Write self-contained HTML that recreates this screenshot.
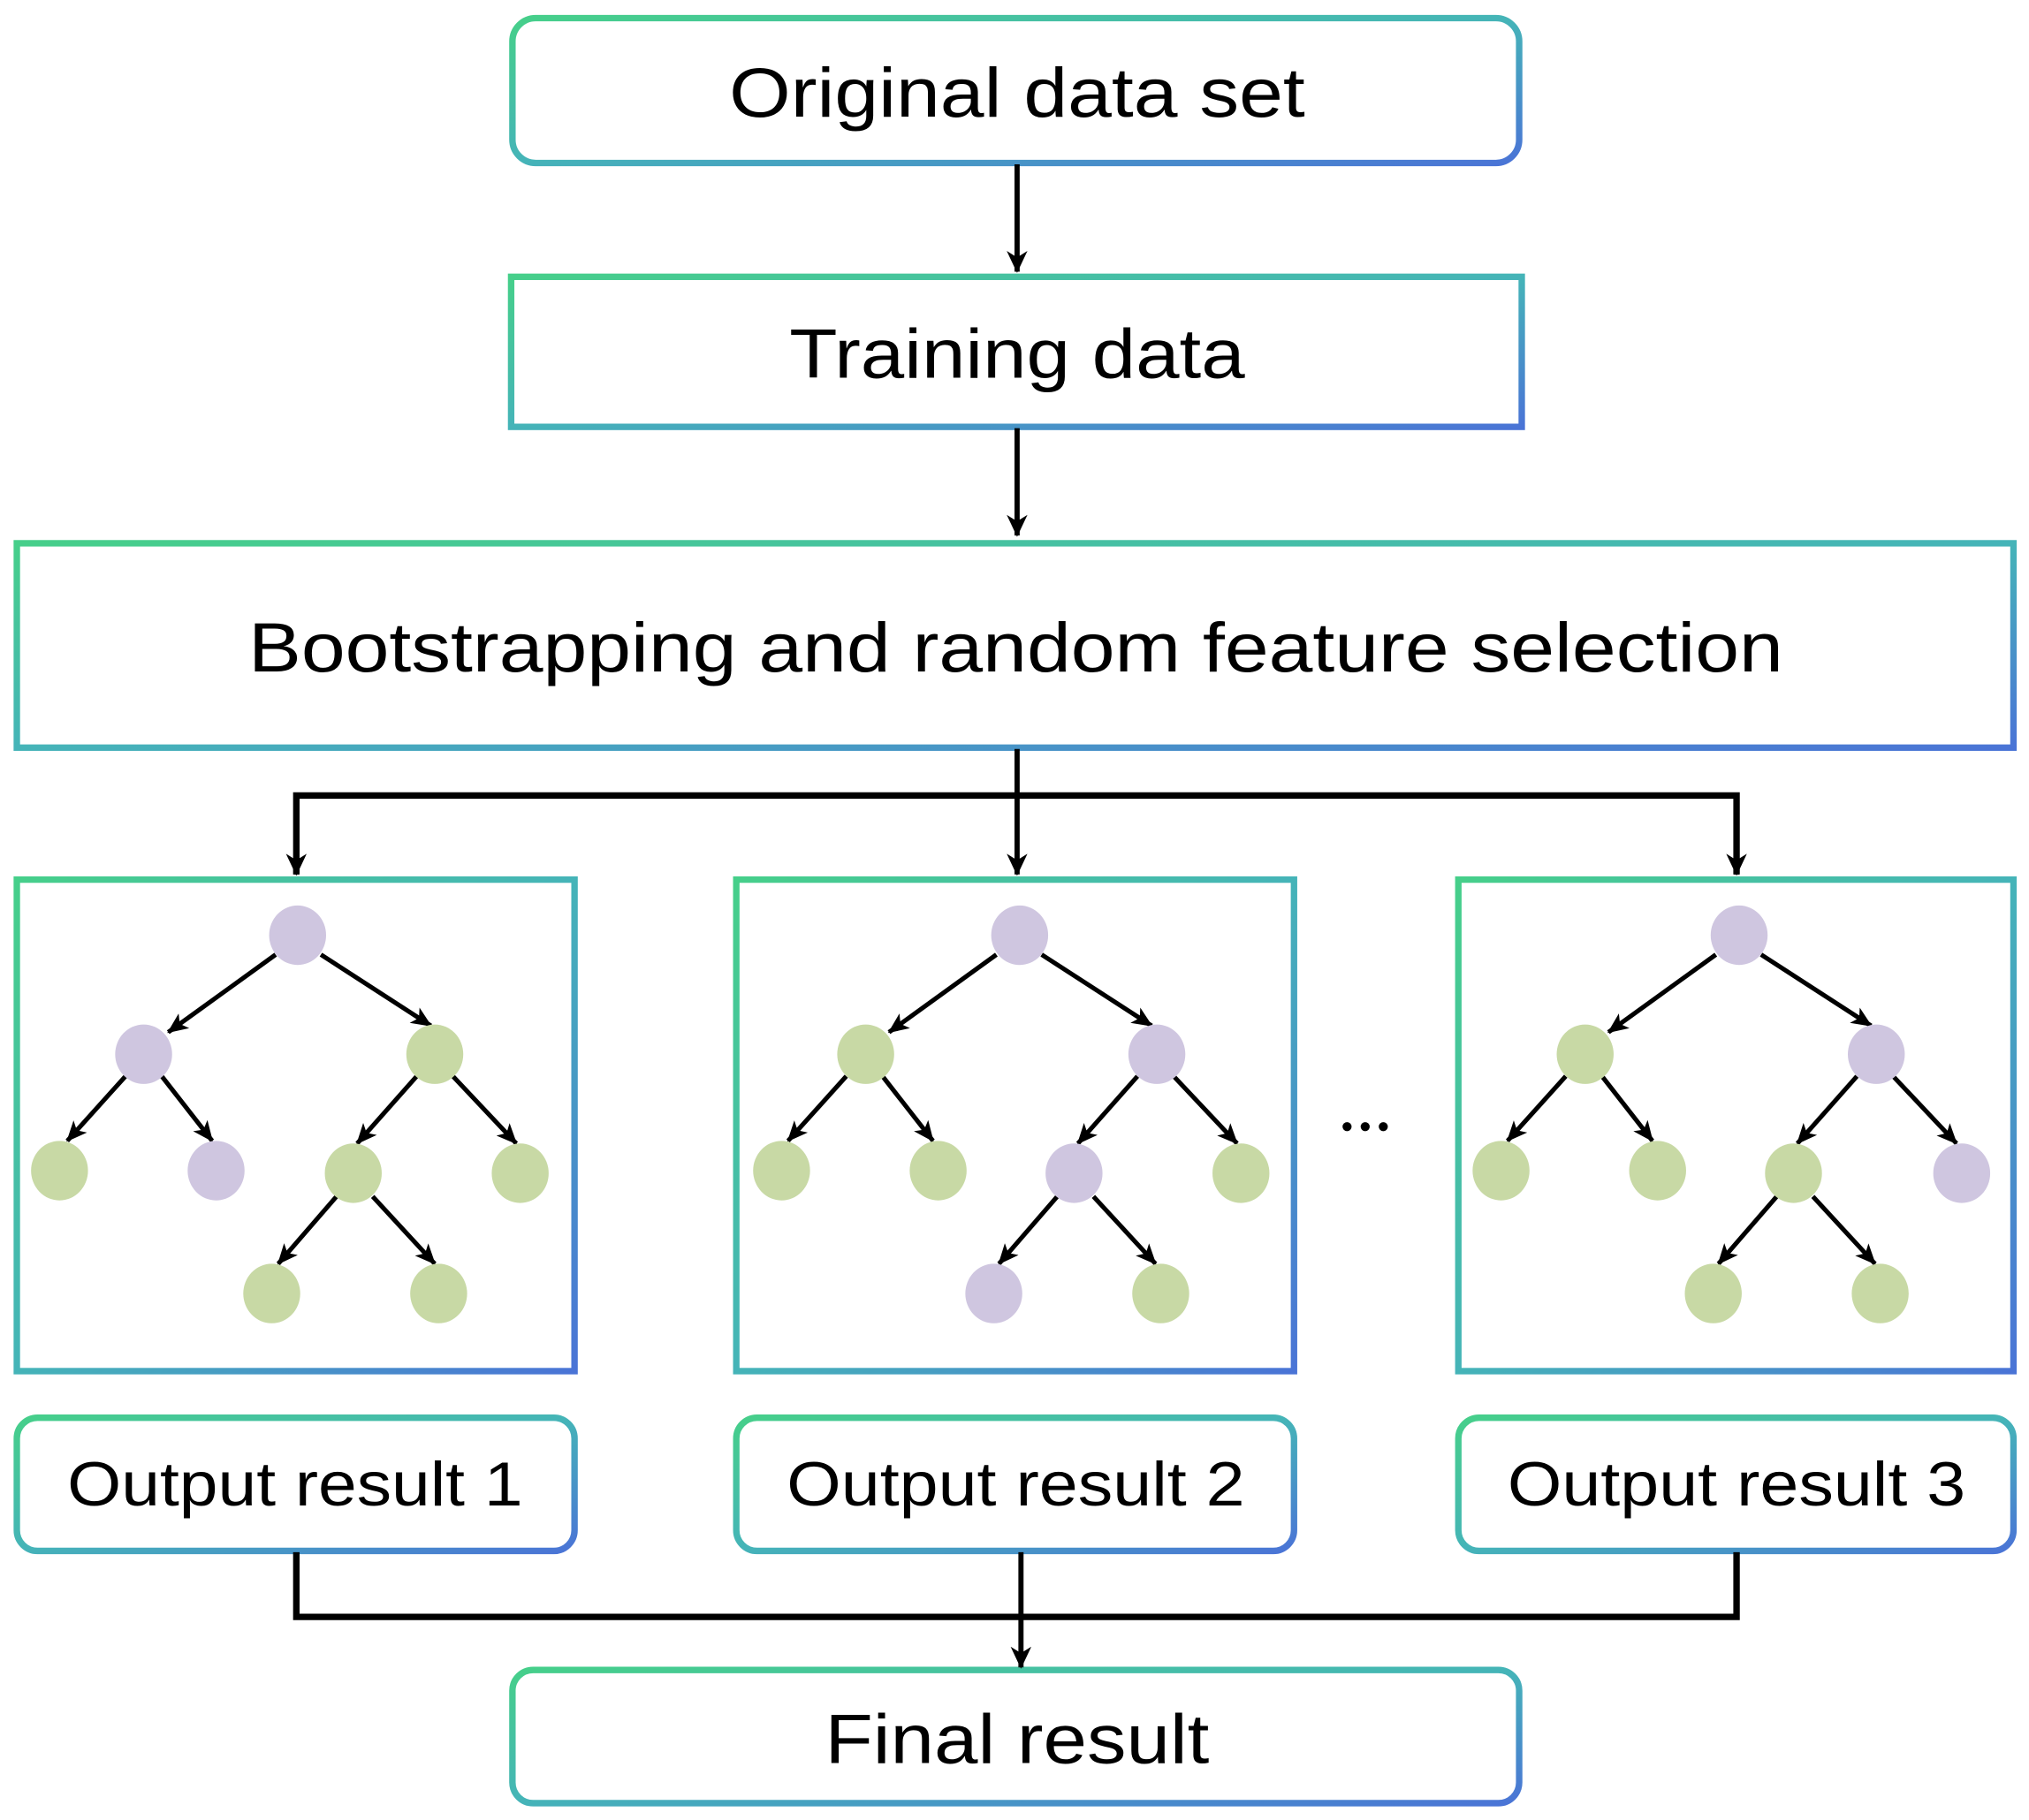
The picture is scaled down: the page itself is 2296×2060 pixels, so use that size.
<!DOCTYPE html>
<html><head><meta charset="utf-8"><style>html,body{margin:0;padding:0;background:#fff}svg{display:block}</style></head>
<body>
<svg width="2296" height="2060" viewBox="0 0 1568 1407" preserveAspectRatio="none" xmlns="http://www.w3.org/2000/svg" font-family="Liberation Sans, Arial, sans-serif">
<defs>
<linearGradient id="g" x1="0" y1="0" x2="1" y2="1"><stop offset="0" stop-color="#46cf8a"/><stop offset="0.5" stop-color="#45b4b8"/><stop offset="1" stop-color="#4a74d6"/></linearGradient>
<marker id="a" markerWidth="16" markerHeight="16" refX="15" refY="8" orient="auto" markerUnits="userSpaceOnUse" viewBox="0 0 16 16"><path d="M0,1 L16,8 L0,15 L4,8 z" fill="#000"/></marker>
<marker id="b" markerWidth="18" markerHeight="18" refX="16" refY="9" orient="auto" markerUnits="userSpaceOnUse" viewBox="0 0 18 18"><path d="M0,1 L17,9 L0,17 L5,9 z" fill="#000"/></marker>
</defs>
<g fill="none" stroke="url(#g)" stroke-width="5">
<rect x="396" y="14" width="778" height="112" rx="18"/>
<rect x="395" y="214" width="781" height="116"/>
<rect x="13" y="420" width="1543" height="158"/>
<rect x="13" y="680" width="431" height="380"/>
<rect x="569" y="680" width="431" height="380"/>
<rect x="1127" y="680" width="429" height="380"/>
<rect x="13" y="1096" width="431" height="103" rx="16"/>
<rect x="569" y="1096" width="431" height="103" rx="16"/>
<rect x="1127" y="1096" width="429" height="103" rx="16"/>
<rect x="396" y="1291" width="778" height="103" rx="16"/>
</g>
<g stroke="#000" fill="none" stroke-width="4">
<line x1="786" y1="127" x2="786" y2="210" marker-end="url(#b)"/>
<line x1="786" y1="331" x2="786" y2="414" marker-end="url(#b)"/>
<line x1="786" y1="579" x2="786" y2="676" marker-end="url(#b)"/>
<polyline points="229,676 229,615 1342,615 1342,676" stroke-width="5"/>
<line x1="229" y1="640" x2="229" y2="676" marker-end="url(#b)"/>
<line x1="1342" y1="640" x2="1342" y2="676" marker-end="url(#b)"/>
<polyline points="229,1200 229,1250 1342,1250 1342,1200" stroke-width="5"/>
<line x1="789" y1="1200" x2="789" y2="1289" marker-end="url(#b)"/>
</g>
<g font-size="54" fill="#000" text-anchor="middle">
<text x="786" y="90" textLength="445" lengthAdjust="spacingAndGlyphs">Original data set</text>
<text x="786" y="292" textLength="352" lengthAdjust="spacingAndGlyphs">Training data</text>
<text x="785" y="519" textLength="1186" lengthAdjust="spacingAndGlyphs">Bootstrapping and random feature selection</text>
<text x="786" y="1363" textLength="297" lengthAdjust="spacingAndGlyphs">Final result</text>
</g>
<g font-size="48" fill="#000" text-anchor="middle">
<text x="228" y="1164" textLength="352" lengthAdjust="spacingAndGlyphs">Output result 1</text>
<text x="785" y="1164" textLength="354" lengthAdjust="spacingAndGlyphs">Output result 2</text>
<text x="1342" y="1164" textLength="354" lengthAdjust="spacingAndGlyphs">Output result 3</text>
</g>
<g fill="#000"><circle cx="1041" cy="871" r="3.5"/><circle cx="1055" cy="871" r="3.5"/><circle cx="1069" cy="871" r="3.5"/></g>
<g stroke="#000" stroke-width="3.5" marker-end="url(#a)">
<g id="t">
<line x1="213" y1="738" x2="130" y2="798"/>
<line x1="248" y1="738" x2="333" y2="793"/>
<line x1="97" y1="832" x2="52" y2="882"/>
<line x1="125" y1="832" x2="164" y2="882"/>
<line x1="322" y1="832" x2="276" y2="884"/>
<line x1="350" y1="832" x2="399" y2="884"/>
<line x1="260" y1="925" x2="215" y2="977"/>
<line x1="288" y1="925" x2="336" y2="977"/>
</g>
</g>
<g stroke="#000" stroke-width="3.5" marker-end="url(#a)" transform="translate(557,0)">
<line x1="213" y1="738" x2="130" y2="798"/>
<line x1="248" y1="738" x2="333" y2="793"/>
<line x1="97" y1="832" x2="52" y2="882"/>
<line x1="125" y1="832" x2="164" y2="882"/>
<line x1="322" y1="832" x2="276" y2="884"/>
<line x1="350" y1="832" x2="399" y2="884"/>
<line x1="260" y1="925" x2="215" y2="977"/>
<line x1="288" y1="925" x2="336" y2="977"/>
</g>
<g stroke="#000" stroke-width="3.5" marker-end="url(#a)" transform="translate(1113,0)">
<line x1="213" y1="738" x2="130" y2="798"/>
<line x1="248" y1="738" x2="333" y2="793"/>
<line x1="97" y1="832" x2="52" y2="882"/>
<line x1="125" y1="832" x2="164" y2="882"/>
<line x1="322" y1="832" x2="276" y2="884"/>
<line x1="350" y1="832" x2="399" y2="884"/>
<line x1="260" y1="925" x2="215" y2="977"/>
<line x1="288" y1="925" x2="336" y2="977"/>
</g>
<g>
<ellipse cx="230" cy="723" rx="22" ry="23" fill="#cfc6e0"/>
<ellipse cx="111" cy="815" rx="22" ry="23" fill="#cfc6e0"/>
<ellipse cx="336" cy="815" rx="22" ry="23" fill="#c8d9a5"/>
<ellipse cx="46" cy="905" rx="22" ry="23" fill="#c8d9a5"/>
<ellipse cx="167" cy="905" rx="22" ry="23" fill="#cfc6e0"/>
<ellipse cx="273" cy="907" rx="22" ry="23" fill="#c8d9a5"/>
<ellipse cx="402" cy="907" rx="22" ry="23" fill="#c8d9a5"/>
<ellipse cx="210" cy="1000" rx="22" ry="23" fill="#c8d9a5"/>
<ellipse cx="339" cy="1000" rx="22" ry="23" fill="#c8d9a5"/>

<ellipse cx="788" cy="723" rx="22" ry="23" fill="#cfc6e0"/>
<ellipse cx="669" cy="815" rx="22" ry="23" fill="#c8d9a5"/>
<ellipse cx="894" cy="815" rx="22" ry="23" fill="#cfc6e0"/>
<ellipse cx="604" cy="905" rx="22" ry="23" fill="#c8d9a5"/>
<ellipse cx="725" cy="905" rx="22" ry="23" fill="#c8d9a5"/>
<ellipse cx="830" cy="907" rx="22" ry="23" fill="#cfc6e0"/>
<ellipse cx="959" cy="907" rx="22" ry="23" fill="#c8d9a5"/>
<ellipse cx="768" cy="1000" rx="22" ry="23" fill="#cfc6e0"/>
<ellipse cx="897" cy="1000" rx="22" ry="23" fill="#c8d9a5"/>

<ellipse cx="1344" cy="723" rx="22" ry="23" fill="#cfc6e0"/>
<ellipse cx="1225" cy="815" rx="22" ry="23" fill="#c8d9a5"/>
<ellipse cx="1450" cy="815" rx="22" ry="23" fill="#cfc6e0"/>
<ellipse cx="1160" cy="905" rx="22" ry="23" fill="#c8d9a5"/>
<ellipse cx="1281" cy="905" rx="22" ry="23" fill="#c8d9a5"/>
<ellipse cx="1386" cy="907" rx="22" ry="23" fill="#c8d9a5"/>
<ellipse cx="1516" cy="907" rx="22" ry="23" fill="#cfc6e0"/>
<ellipse cx="1324" cy="1000" rx="22" ry="23" fill="#c8d9a5"/>
<ellipse cx="1453" cy="1000" rx="22" ry="23" fill="#c8d9a5"/>
</g>
</svg>
</body></html>
